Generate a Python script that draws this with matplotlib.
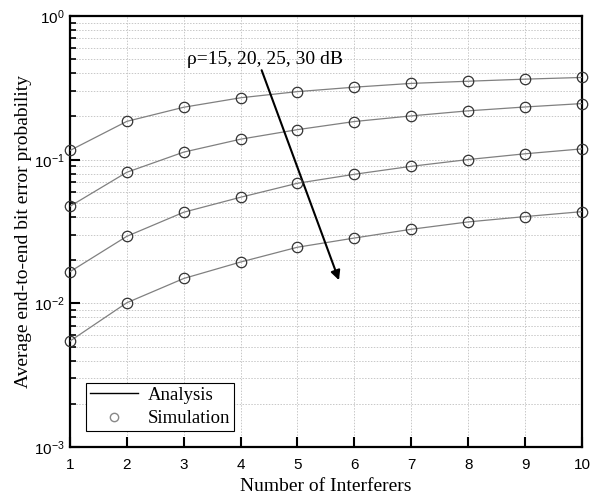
import numpy as np
import matplotlib
matplotlib.use('Agg')
import matplotlib.pyplot as plt
from matplotlib.ticker import LogLocator, NullFormatter

plt.rcParams['mathtext.fontset'] = 'custom'
plt.rcParams['mathtext.rm'] = 'Liberation Sans'
plt.rcParams['mathtext.it'] = 'Liberation Sans'

# number of interferers
interferers = [1, 2, 3, 4, 5, 6, 7, 8, 9, 10]

# average end-to-end BEP for rho = 15, 20, 25, 30 dB
ber_15 = [0.116, 0.185, 0.232, 0.270, 0.298, 0.320, 0.340, 0.352, 0.364, 0.374]
ber_20 = [0.0474, 0.0818, 0.113, 0.139, 0.162, 0.1845, 0.202, 0.219, 0.233, 0.246]
ber_25 = [0.0166, 0.0293, 0.0431, 0.0548, 0.0686, 0.0792, 0.090, 0.1003, 0.110, 0.119]
ber_30 = [0.00546, 0.0101, 0.0149, 0.0194, 0.0246, 0.0285, 0.0328, 0.0369, 0.0402, 0.0435]

fig = plt.figure(figsize=(6.03, 4.97), dpi=100)
ax = fig.add_axes([0.116, 0.1006, 0.849, 0.867])

for ber in [ber_15, ber_20, ber_25, ber_30]:
    ax.plot(interferers, ber, '-', color='#808080', lw=0.9, zorder=3)
    ax.plot(interferers, ber, 'o', mfc='none', mec='#333333', ms=7.5, mew=0.9,
            clip_on=False, zorder=4)

ax.set_yscale('log')
ax.set_xlim(1, 10)
ax.set_ylim(1e-3, 1)
ax.set_xticks(interferers)
ax.yaxis.set_major_locator(LogLocator(base=10))
ax.yaxis.set_minor_locator(LogLocator(base=10, subs=np.arange(2, 10)))
ax.yaxis.set_minor_formatter(NullFormatter())

ax.grid(True, which='major', axis='x', ls=(0, (1.5, 1.5)), color='#c8c8c8', lw=0.7)
ax.grid(True, which='both', axis='y', ls=(0, (1.5, 1.5)), color='#c8c8c8', lw=0.7)
ax.set_axisbelow(True)

ax.tick_params(which='major', direction='in', length=7, width=1.5, labelsize=11,
               top=False, right=False)
ax.tick_params(axis='x', which='major', pad=8)
ax.tick_params(which='minor', direction='in', length=4, width=1.2,
               top=False, right=False)
ax.tick_params(axis='x', which='minor', bottom=False)
for lab in ax.get_xticklabels() + ax.get_yticklabels():
    lab.set_fontfamily('Liberation Sans')
for sp in ax.spines.values():
    sp.set_linewidth(1.6)

ax.set_xlabel('Number of Interferers', family='Liberation Serif', fontsize=14,
              labelpad=4)
ax.set_ylabel('Average end-to-end bit error probability', family='Liberation Serif',
              fontsize=14, labelpad=2)

ax.annotate('', xy=(5.73, 0.0145), xytext=(4.37, 0.42),
            arrowprops=dict(arrowstyle='-|>', color='black', lw=1.5,
                            mutation_scale=14, shrinkA=0, shrinkB=0))
ax.text(3.06, 0.463, 'ρ=15, 20, 25, 30 dB', family='Liberation Serif', fontsize=14,
        va='baseline')

ax.plot([], [], '-', color='black', lw=1.0, label='Analysis')
ax.plot([], [], 'o', mfc='none', mec='#888888', ms=6, label='Simulation')
leg = ax.legend(loc='lower left', prop={'family': 'Liberation Serif', 'size': 13.5},
                frameon=True, fancybox=False, edgecolor='black', framealpha=1,
                borderaxespad=0.85, borderpad=0.2, handlelength=2.6,
                handletextpad=0.5, labelspacing=0.35)
leg.get_frame().set_linewidth(0.8)

fig.savefig('out.png', dpi=100)
